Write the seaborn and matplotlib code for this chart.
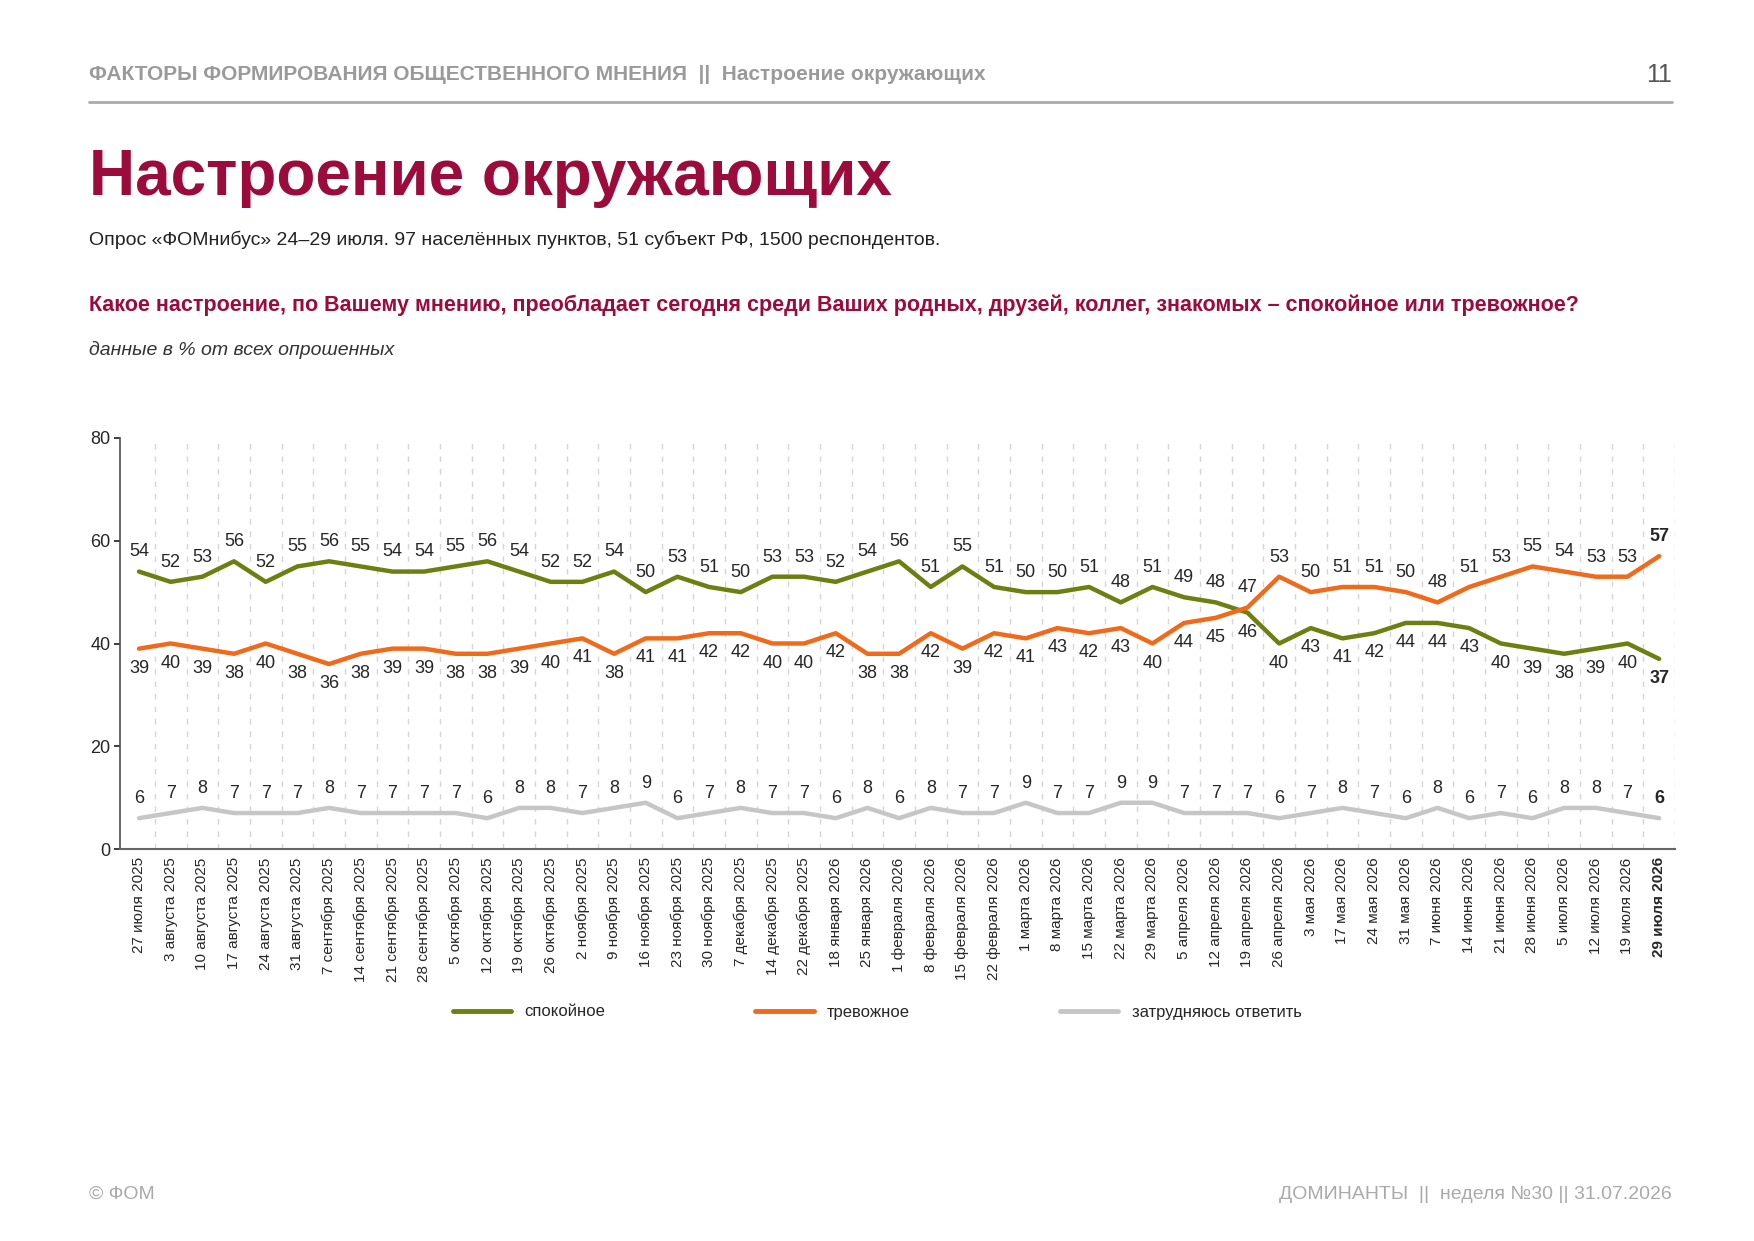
import matplotlib
matplotlib.use("Agg")
import numpy as np
import pandas as pd
import seaborn as sns
import matplotlib.pyplot as plt

sns.set_theme(style="white")
plt.rcParams['font.family'] = ['Liberation Sans', 'DejaVu Sans']

# Data
dates = ["27 июля 2025", "3 августа 2025", "10 августа 2025", "17 августа 2025", "24 августа 2025",
         "31 августа 2025", "7 сентября 2025", "14 сентября 2025", "21 сентября 2025", "28 сентября 2025",
         "5 октября 2025", "12 октября 2025", "19 октября 2025", "26 октября 2025", "2 ноября 2025",
         "9 ноября 2025", "16 ноября 2025", "23 ноября 2025", "30 ноября 2025", "7 декабря 2025",
         "14 декабря 2025", "22 декабря 2025", "18 января 2026", "25 января 2026", "1 февраля 2026",
         "8 февраля 2026", "15 февраля 2026", "22 февраля 2026", "1 марта 2026", "8 марта 2026",
         "15 марта 2026", "22 марта 2026", "29 марта 2026", "5 апреля 2026", "12 апреля 2026",
         "19 апреля 2026", "26 апреля 2026", "3 мая 2026", "17 мая 2026", "24 мая 2026",
         "31 мая 2026", "7 июня 2026", "14 июня 2026", "21 июня 2026", "28 июня 2026",
         "5 июля 2026", "12 июля 2026", "19 июля 2026", "29 июля 2026"]
calm = [54, 52, 53, 56, 52, 55, 56, 55, 54, 54, 55, 56, 54, 52, 52, 54, 50, 53, 51, 50,
        53, 53, 52, 54, 56, 51, 55, 51, 50, 50, 51, 48, 51, 49, 48, 46, 40, 43, 41, 42,
        44, 44, 43, 40, 39, 38, 39, 40, 37]
anxious = [39, 40, 39, 38, 40, 38, 36, 38, 39, 39, 38, 38, 39, 40, 41, 38, 41, 41, 42, 42,
           40, 40, 42, 38, 38, 42, 39, 42, 41, 43, 42, 43, 40, 44, 45, 47, 53, 50, 51, 51,
           50, 48, 51, 53, 55, 54, 53, 53, 57]
unsure = [6, 7, 8, 7, 7, 7, 8, 7, 7, 7, 7, 6, 8, 8, 7, 8, 9, 6, 7, 8,
          7, 7, 6, 8, 6, 8, 7, 7, 9, 7, 7, 9, 9, 7, 7, 7, 6, 7, 8, 7,
          6, 8, 6, 7, 6, 8, 8, 7, 6]
series_names = ["спокойное", "тревожное", "затрудняюсь ответить"]
colors = ["#6E7F12", "#F06A1C", "#C6C6C6"]

n = len(dates)
x = np.arange(n)
df = pd.DataFrame({"x": np.tile(x, 3),
                   "value": calm + anxious + unsure,
                   "series": np.repeat(series_names, n)})

fig = plt.figure(figsize=(17.54, 12.41), dpi=100)
W, H = 1754, 1241
ax = fig.add_axes([120 / W, 1 - 849 / H, (1675 - 120) / W, (849 - 438) / H])

sns.lineplot(data=df, x="x", y="value", hue="series", palette=colors, linewidth=3.2,
             ax=ax, legend=False)

ax.set_xlim(-0.6, n - 0.5)
ax.set_ylim(0, 80)
ax.set_yticks([0, 20, 40, 60, 80])
ax.tick_params(axis='y', labelsize=13, length=4, left=True, pad=3)
ax.set_xticks(x)
ax.set_xticklabels(dates, rotation=90, fontsize=11)
ax.get_xticklabels()[-1].set_fontweight("bold")
ax.tick_params(axis='x', length=0, pad=6)
ax.set_xlabel("")
ax.set_ylabel("")
for s in ["top", "right"]:
    ax.spines[s].set_visible(False)
ax.spines["left"].set_color("#555555")
ax.spines["bottom"].set_color("#666666")
ax.spines["bottom"].set_linewidth(1.5)
for xi in x:
    ax.axvline(xi + 0.5, color="#D5D5D5", linestyle=(0, (4, 5)), linewidth=1, zorder=0)

# data labels
for i in range(n):
    last = i == n - 1
    fw = "bold" if last else "normal"
    hi, lo = (calm[i], anxious[i]) if calm[i] >= anxious[i] else (anxious[i], calm[i])
    ax.annotate(str(hi), (i, hi), xytext=(0, 8), textcoords="offset points",
                ha="center", va="bottom", fontsize=13, fontweight=fw)
    ax.annotate(str(lo), (i, lo), xytext=(0, -8), textcoords="offset points",
                ha="center", va="top", fontsize=13, fontweight=fw)
    ax.annotate(str(unsure[i]), (i, unsure[i]), xytext=(0, 8), textcoords="offset points",
                ha="center", va="bottom", fontsize=13, fontweight=fw)

# legend
handles = [plt.Line2D([], [], color=c, linewidth=3.5) for c in colors]
fig.legend(handles, series_names, loc="center", bbox_to_anchor=(0.5, 1 - 1012 / H),
           ncol=3, frameon=False, fontsize=12, columnspacing=9, handlelength=3.5)

# header and texts
red = "#9B0B3B"
fig.text(89 / W, 1 - 75 / H, "ФАКТОРЫ ФОРМИРОВАНИЯ ОБЩЕСТВЕННОГО МНЕНИЯ  ||  Настроение окружающих",
         fontsize=15, color="#9A9A9A", va="center", fontweight="bold")
fig.text(1672 / W, 1 - 75 / H, "11", fontsize=18, color="#555555", va="center", ha="right")
fig.add_artist(plt.Line2D([89 / W, 1672 / W], [1 - 102 / H, 1 - 102 / H], color="#AAAAAA", linewidth=2))
fig.text(89 / W, 1 - 178 / H, "Настроение окружающих", fontsize=46, color=red,
         fontweight="bold", va="center")
fig.text(89 / W, 1 - 240 / H,
         "Опрос «ФОМнибус» 24–29 июля. 97 населённых пунктов, 51 субъект РФ, 1500 респондентов.",
         fontsize=14, color="#222222", va="center")
fig.text(89 / W, 1 - 305 / H,
         "Какое настроение, по Вашему мнению, преобладает сегодня среди Ваших родных, друзей, коллег, знакомых – спокойное или тревожное?",
         fontsize=15.5, color=red, va="center", fontweight="bold")
fig.text(89 / W, 1 - 350 / H, "данные в % от всех опрошенных", fontsize=14, style="italic",
         color="#333333", va="center")
fig.text(89 / W, 1 - 1194 / H, "© ФОМ", fontsize=14, color="#AAAAAA", va="center")
fig.text(1672 / W, 1 - 1194 / H, "ДОМИНАНТЫ  ||  неделя №30 || 31.07.2026", fontsize=14,
         color="#AAAAAA", va="center", ha="right")

fig.savefig("out.png", dpi=100)
